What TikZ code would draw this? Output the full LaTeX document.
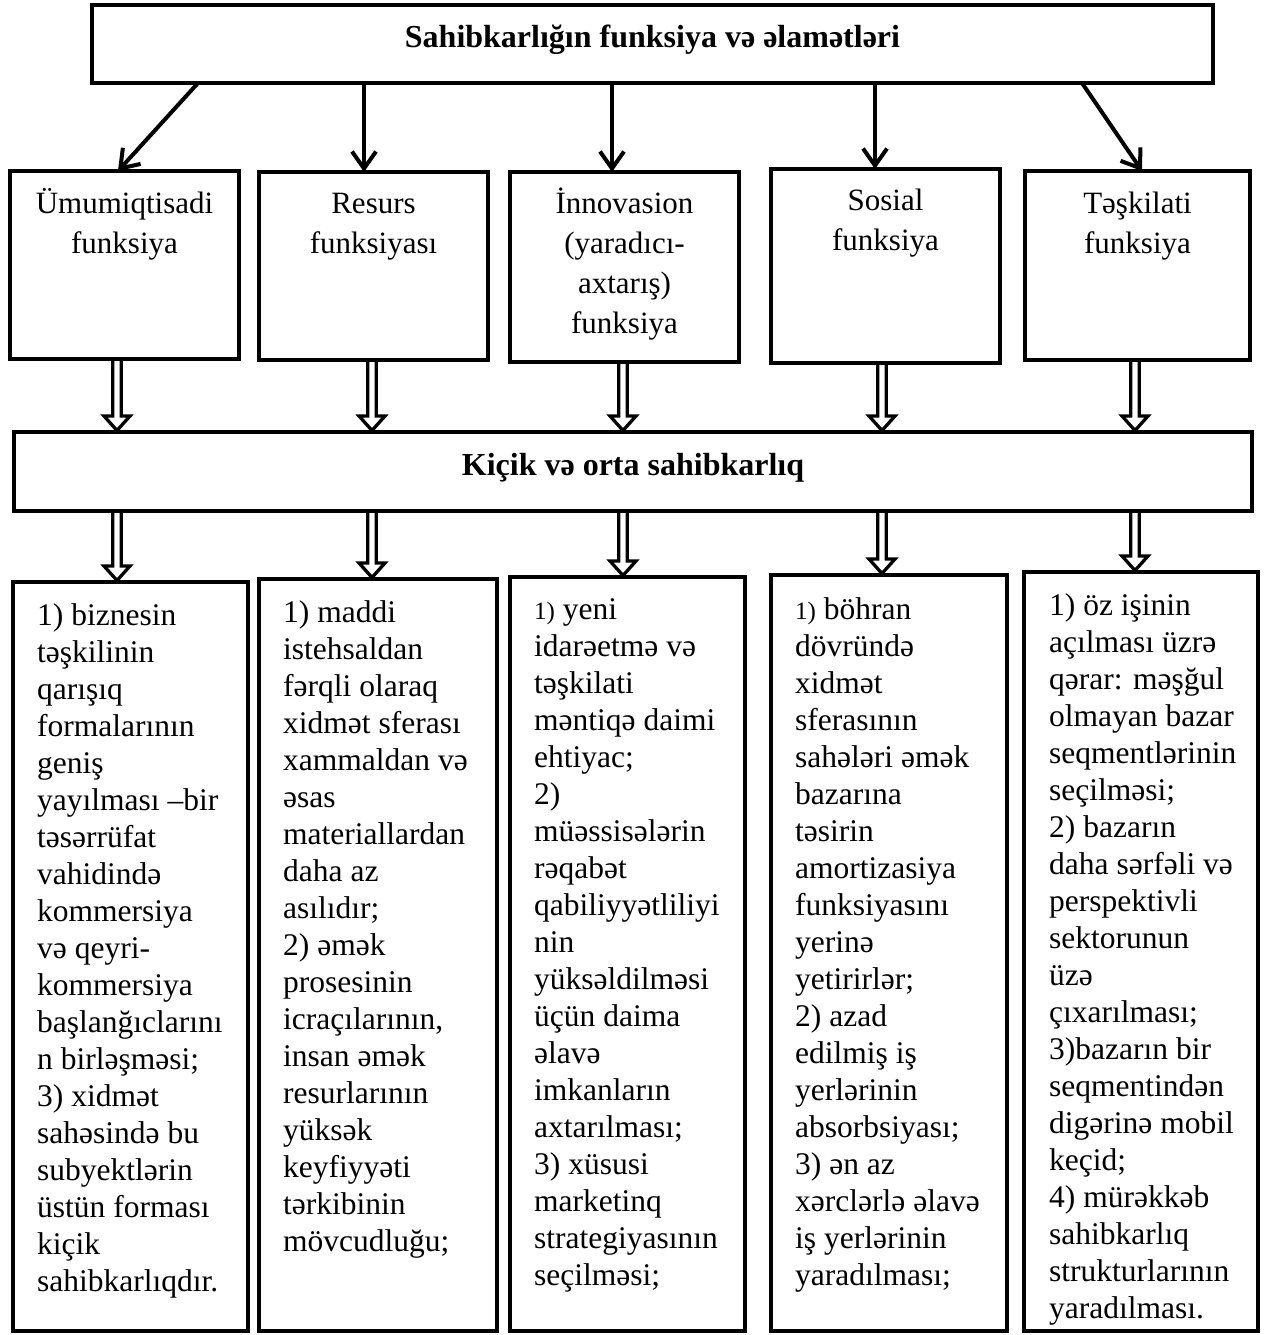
\documentclass[tikz,border=0pt]{standalone}
\usepackage{fontspec}
\setmainfont{Liberation Serif}
\usetikzlibrary{arrows.meta,calc}
\begin{document}
\begin{tikzpicture}[x=1pt,y=-1pt,
  box/.style={draw, line width=4.5pt, inner sep=0pt, outer sep=0pt, anchor=north west, rectangle},
  arr/.style={line width=4pt, -{Straight Barb[length=17pt,width=24pt]}},
  dbl/.style={draw, line width=3.3pt, fill=white, line join=miter, miter limit=10,
    to path={let \p1=(\tikztostart), \p2=(\tikztotarget) in
      (\x1-4.2pt,\y1) -- (\x1-4.2pt,\y2+16pt) -- (\x1-13pt,\y2+16pt) -- (\x1,\y2+1.5pt)
      -- (\x1+13pt,\y2+16pt) -- (\x1+4.2pt,\y2+16pt) -- (\x1+4.2pt,\y1)}},
  ftxt/.style={anchor=north, inner sep=0pt, align=center, font=\fontsize{31}{40}\selectfont},
  btxt/.style={anchor=north west, inner sep=0pt, align=left, font=\fontsize{31.5}{37}\selectfont},
  ttl/.style={anchor=base, inner sep=0pt, font=\bfseries\fontsize{32}{38}\selectfont}
]
\fill[white] (0,0) rectangle (1264,1335);
\useasboundingbox (0,0) rectangle (1264,1335);

% guide coordinates
\coordinate (ts1) at (198,0); \coordinate (te1) at (118,0);
\coordinate (ts2) at (364,0);
\coordinate (ts3) at (612,0);
\coordinate (ts4) at (875,0);
\coordinate (ts5) at (1082,0); \coordinate (te5) at (1142,0);
\coordinate (d1) at (117,0);
\coordinate (d2) at (372,0);
\coordinate (d3) at (623,0);
\coordinate (d4) at (882,0);
\coordinate (d5) at (1135,0);

% boxes
\node[box, minimum width=1121pt, minimum height=78pt] (top) at (92,5) {};
\node[box, minimum width=229pt, minimum height=188pt] (f1) at (10,171) {};
\node[box, minimum width=229pt, minimum height=188pt] (f2) at (259,172) {};
\node[box, minimum width=229pt, minimum height=190pt] (f3) at (510,172) {};
\node[box, minimum width=229pt, minimum height=194pt] (f4) at (771,169) {};
\node[box, minimum width=225pt, minimum height=189pt] (f5) at (1025,171) {};
\node[box, minimum width=1238pt, minimum height=79pt] (mid) at (14,432) {};
\node[box, minimum width=235pt, minimum height=749pt] (c1) at (13,582) {};
\node[box, minimum width=238pt, minimum height=752pt] (c2) at (259,579) {};
\node[box, minimum width=235pt, minimum height=754pt] (c3) at (510,577) {};
\node[box, minimum width=236pt, minimum height=756pt] (c4) at (771,575) {};
\node[box, minimum width=234pt, minimum height=759pt] (c5) at (1024,572) {};

% titles
\node[ttl] (ttop) at (652.5,48) {Sahibkarlığın funksiya və əlamətləri};
\node[ttl] (tmid) at (633,475) {Kiçik və orta sahibkarlıq};

% function texts
\node[ftxt] (tf1) at (124.5,185) {\strut Ümumiqtisadi\\funksiya};
\node[ftxt] (tf2) at (373.5,185) {\strut Resurs\\funksiyası};
\node[ftxt] (tf3) at (624.5,185) {\strut İnnovasion\\(yaradıcı-\\axtarış)\\funksiya};
\node[ftxt] (tf4) at (885.5,182) {\strut Sosial\\funksiya};
\node[ftxt] (tf5) at (1137.5,185) {\strut Təşkilati\\funksiya};

% single arrows
\draw[arr] (top.south -| ts1) -- (f1.north -| te1);
\draw[arr] (top.south -| ts2) -- (f2.north -| ts2);
\draw[arr] (top.south -| ts3) -- (f3.north -| ts3);
\draw[arr] (top.south -| ts4) -- (f4.north -| ts4);
\draw[arr] (top.south -| ts5) -- (f5.north -| te5);

% double arrows
\draw[dbl] (f1.south -| d1) to (mid.north -| d1);
\draw[dbl] (f2.south -| d2) to (mid.north -| d2);
\draw[dbl] (f3.south -| d3) to (mid.north -| d3);
\draw[dbl] (f4.south -| d4) to (mid.north -| d4);
\draw[dbl] (f5.south -| d5) to (mid.north -| d5);
\draw[dbl] (mid.south -| d1) to (c1.north -| d1);
\draw[dbl] (mid.south -| d2) to (c2.north -| d2);
\draw[dbl] (mid.south -| d3) to (c3.north -| d3);
\draw[dbl] (mid.south -| d4) to (c4.north -| d4);
\draw[dbl] (mid.south -| d5) to (c5.north -| d5);

% redraw box borders over arrow ends
\foreach \n in {top,f1,f2,f3,f4,f5,mid,c1,c2,c3,c4,c5}
  \draw[line width=4.5pt] (\n.north west) rectangle (\n.south east);

% bottom texts
\node[btxt] (tc1) at (37,599) {\strut 1) biznesin\\təşkilinin\\qarışıq\\formalarının\\geniş\\yayılması –bir\\təsərrüfat\\vahidində\\kommersiya\\və qeyri-\\kommersiya\\başlanğıclarını\\n birləşməsi;\\3) xidmət\\sahəsində bu\\subyektlərin\\üstün forması\\kiçik\\sahibkarlıqdır.};
\node[btxt] (tc2) at (283,596) {\strut 1) maddi\\istehsaldan\\fərqli olaraq\\xidmət sferası\\xammaldan və\\əsas\\materiallardan\\daha az\\asılıdır;\\2) əmək\\prosesinin\\icraçılarının,\\insan əmək\\resurlarının\\yüksək\\keyfiyyəti\\tərkibinin\\mövcudluğu;};
\node[btxt] (tc3) at (534,593) {\strut {\fontsize{25}{37}\selectfont 1)} yeni\\idarəetmə və\\təşkilati\\məntiqə daimi\\ehtiyac;\\2)\\müəssisələrin\\rəqabət\\qabiliyyətliliyi\\nin\\yüksəldilməsi\\üçün daima\\əlavə\\imkanların\\axtarılması;\\3) xüsusi\\marketinq\\strategiyasının\\seçilməsi;};
\node[btxt] (tc4) at (795,593) {\strut {\fontsize{25}{37}\selectfont 1)} böhran\\dövründə\\xidmət\\sferasının\\sahələri əmək\\bazarına\\təsirin\\amortizasiya\\funksiyasını\\yerinə\\yetirirlər;\\2) azad\\edilmiş iş\\yerlərinin\\absorbsiyası;\\3) ən az\\xərclərlə əlavə\\iş yerlərinin\\yaradılması;};
\node[btxt] (tc5) at (1049,589) {\strut 1) öz işinin\\açılması üzrə\\qərar: məşğul\\olmayan bazar\\seqmentlərinin\\seçilməsi;\\2) bazarın\\daha sərfəli və\\perspektivli\\sektorunun\\üzə\\çıxarılması;\\3)bazarın bir\\seqmentindən\\digərinə mobil\\keçid;\\4) mürəkkəb\\sahibkarlıq\\strukturlarının\\yaradılması.};
\end{tikzpicture}
\end{document}
